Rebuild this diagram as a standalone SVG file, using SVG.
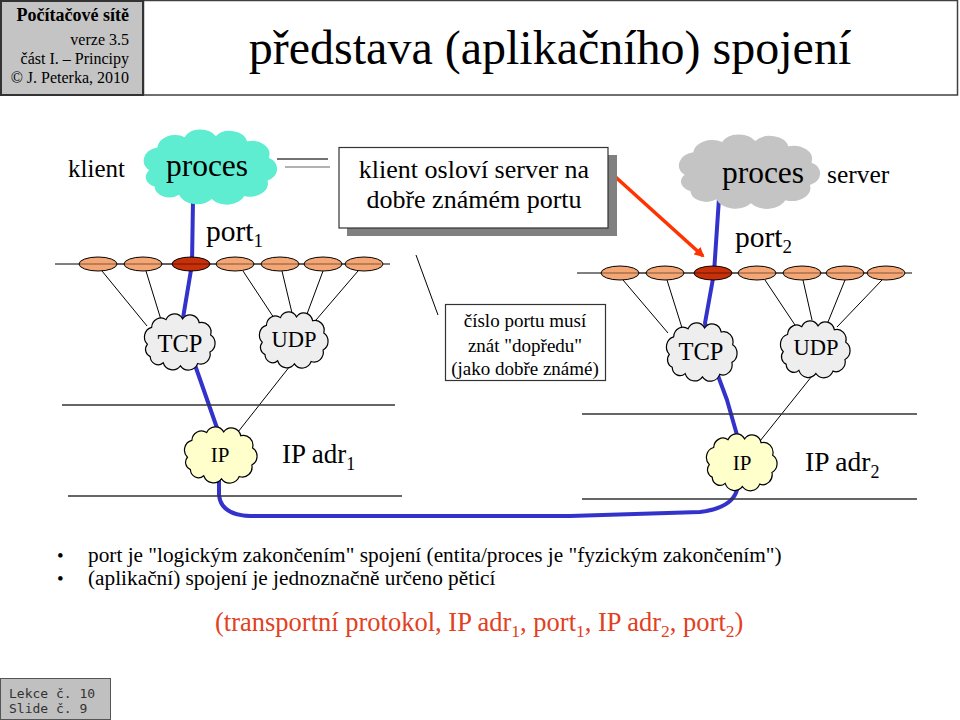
<svg xmlns="http://www.w3.org/2000/svg" width="960" height="720" viewBox="0 0 960 720">
<style>
text{font-family:"Liberation Serif","Times New Roman",serif;fill:#000}
.thin{stroke:#000;stroke-width:1;fill:none}
.hl{stroke:#333;stroke-width:1.3;fill:none}
.ell{fill:#F4A674;stroke:#000;stroke-width:1}
.ellr{fill:#C8300A;stroke:#000;stroke-width:1}
.cl{stroke:#000;stroke-width:1.2}
.mono{font-family:"DejaVu Sans Mono","Liberation Mono",monospace;font-size:13px;fill:#333}
.red{fill:#E2401E}
</style>
<defs>
<path id="cloud" vector-effect="non-scaling-stroke" d="M6,38 A13,13 0 0 1 12,16 A13,13 0 0 1 32,6 A13,13 0 0 1 55,5 A13,13 0 0 1 78,10 A13,13 0 0 1 94,26 A12.5,12.5 0 0 1 93,48 A13,13 0 0 1 76,63 A14,14 0 0 1 52,66 A14,14 0 0 1 28,62 A11,11 0 0 1 10,54 A10,10 0 0 1 6,38 Z"/>
<marker id="arr" markerWidth="10" markerHeight="10" refX="8" refY="5" orient="auto" markerUnits="userSpaceOnUse" viewBox="0 0 10 10">
<path d="M0,0 L10,5 L0,10 Z" fill="#FF3300"/>
</marker>
</defs>

<g id="header">
<rect x="143.5" y="0.5" width="814" height="94.5" fill="#fff" stroke="#404040" stroke-width="1.5"/>
<rect x="1" y="1" width="142" height="94" fill="#C4C4C4" stroke="#333" stroke-width="2"/>
<text x="129" y="21" text-anchor="end" font-size="18" font-weight="bold" fill="#1a1a1a">Počítačové sítě</text>
<text x="129" y="45" text-anchor="end" font-size="16" fill="#222">verze 3.5</text>
<text x="129" y="64" text-anchor="end" font-size="16" fill="#222">část I. – Principy</text>
<text x="129" y="83" text-anchor="end" font-size="16" fill="#222">© J. Peterka, 2010</text>
<text x="550" y="64" text-anchor="middle" font-size="48">představa (aplikačního) spojení</text>
</g>

<g id="connectors">
<path d="M193,200 L192,264 L183,318 L195,365 L217,428 L219,460 L219,495 Q221,515 250,516 L570,516 L700,512 Q732,508 737,490 L741,462 L737,435 L727,400 L717,373 L705,323 L714,273 L719,198" fill="none" stroke="#3333CC" stroke-width="4" stroke-linejoin="round"/>
<line x1="55" y1="264" x2="390" y2="264" class="thin"/>
<line x1="577" y1="273" x2="912" y2="273" class="thin"/>
<line x1="102" y1="271" x2="147" y2="326" class="thin"/>
<line x1="146" y1="271" x2="162" y2="323" class="thin"/>
<line x1="243" y1="271" x2="276" y2="321" class="thin"/>
<line x1="282" y1="271" x2="292" y2="313" class="thin"/>
<line x1="323" y1="271" x2="307" y2="314" class="thin"/>
<line x1="358" y1="271" x2="316" y2="320" class="thin"/>
<line x1="290" y1="366" x2="238" y2="432" class="thin"/>
<line x1="623" y1="280" x2="668" y2="333" class="thin"/>
<line x1="667" y1="280" x2="683" y2="331" class="thin"/>
<line x1="765" y1="280" x2="797" y2="328" class="thin"/>
<line x1="803" y1="280" x2="812" y2="320" class="thin"/>
<line x1="845" y1="280" x2="828" y2="322" class="thin"/>
<line x1="882" y1="280" x2="837" y2="327" class="thin"/>
<line x1="812" y1="376" x2="760" y2="441" class="thin"/>
<line x1="62" y1="405" x2="395" y2="405" class="hl"/>
<line x1="68" y1="496" x2="402" y2="496" class="hl"/>
<line x1="582" y1="414" x2="917" y2="414" class="hl"/>
<line x1="582" y1="499" x2="917" y2="499" class="hl"/>
<line x1="277" y1="159" x2="328" y2="159" stroke="#444" stroke-width="1.5"/>
<line x1="285" y1="167" x2="330" y2="167" stroke="#999" stroke-width="1.5"/>
<line x1="416" y1="255" x2="438" y2="315" class="thin"/>
<line x1="610" y1="172" x2="703" y2="256" stroke="#FF3300" stroke-width="3.5" marker-end="url(#arr)"/>
</g>

<g id="ellipses-left">
<ellipse cx="98" cy="264" rx="19" ry="7" class="ell"/>
<ellipse cx="143" cy="264" rx="19" ry="7" class="ell"/>
<ellipse cx="191" cy="264" rx="19" ry="7" class="ellr"/>
<ellipse cx="235" cy="264" rx="19" ry="7" class="ell"/>
<ellipse cx="280" cy="264" rx="19" ry="7" class="ell"/>
<ellipse cx="323" cy="264" rx="19" ry="7" class="ell"/>
<ellipse cx="364" cy="264" rx="19" ry="7" class="ell"/>
<line x1="79" y1="264" x2="381" y2="264" stroke="#000" stroke-width="0.8" opacity="0.6"/>
</g>
<g id="ellipses-right">
<ellipse cx="620" cy="273" rx="19" ry="7" class="ell"/>
<ellipse cx="665" cy="273" rx="19" ry="7" class="ell"/>
<ellipse cx="713" cy="273" rx="19" ry="7" class="ellr"/>
<ellipse cx="757" cy="273" rx="19" ry="7" class="ell"/>
<ellipse cx="802" cy="273" rx="19" ry="7" class="ell"/>
<ellipse cx="845" cy="273" rx="19" ry="7" class="ell"/>
<ellipse cx="886" cy="273" rx="19" ry="7" class="ell"/>
<line x1="601" y1="273" x2="903" y2="273" stroke="#000" stroke-width="0.8" opacity="0.6"/>
</g>

<g id="proces-klient">
<use href="#cloud" transform="translate(141,131) scale(1.36,1.03)" fill="#5EEDD1"/>
<text x="207" y="176" text-anchor="middle" font-size="31.5">proces</text>
</g>
<g id="proces-server">
<use href="#cloud" transform="translate(676,136) scale(1.44,1.02)" fill="#C4C4C4"/>
<text x="763" y="183" text-anchor="middle" font-size="31.5">proces</text>
</g>

<g id="tcp-left">
<use href="#cloud" transform="translate(143,315) scale(0.72,0.77)" fill="#EEEEEE" class="cl"/>
<text x="180" y="352" text-anchor="middle" font-size="24.5">TCP</text>
</g>
<g id="udp-left">
<use href="#cloud" transform="translate(258,313) scale(0.70,0.77)" fill="#EEEEEE" class="cl"/>
<text x="294" y="347" text-anchor="middle" font-size="22.5">UDP</text>
</g>
<g id="ip-left">
<use href="#cloud" transform="translate(183,428) scale(0.74,0.77)" fill="#FFFFCC" class="cl"/>
<text x="220" y="462" text-anchor="middle" font-size="21">IP</text>
</g>
<g id="tcp-right">
<use href="#cloud" transform="translate(665,324) scale(0.72,0.8)" fill="#EEEEEE" class="cl"/>
<text x="701" y="360" text-anchor="middle" font-size="24.5">TCP</text>
</g>
<g id="udp-right">
<use href="#cloud" transform="translate(779,322) scale(0.71,0.78)" fill="#EEEEEE" class="cl"/>
<text x="816" y="355" text-anchor="middle" font-size="22.5">UDP</text>
</g>
<g id="ip-right">
<use href="#cloud" transform="translate(705,435) scale(0.72,0.78)" fill="#FFFFCC" class="cl"/>
<text x="742" y="470" text-anchor="middle" font-size="21">IP</text>
</g>

<g id="callout-klient">
<rect x="347" y="155" width="270" height="81" fill="#808080"/>
<rect x="339" y="147.5" width="269" height="80.5" fill="#fff" stroke="#333" stroke-width="1.2"/>
<text x="474" y="178" text-anchor="middle" font-size="26">klient osloví server na</text>
<text x="474" y="208" text-anchor="middle" font-size="26">dobře známém portu</text>
</g>

<g id="callout-port">
<rect x="445.5" y="304.5" width="160" height="76" fill="#fff" stroke="#333" stroke-width="1.2"/>
<text x="525" y="327" text-anchor="middle" font-size="19">číslo portu musí</text>
<text x="525" y="352" text-anchor="middle" font-size="19">znát "dopředu"</text>
<text x="525" y="375" text-anchor="middle" font-size="19">(jako dobře známé)</text>
</g>

<g id="labels">
<text x="68" y="177" font-size="25">klient</text>
<text x="827" y="183" font-size="25.5">server</text>
<text x="206" y="241" font-size="29.5">port<tspan font-size="19" dy="6">1</tspan></text>
<text x="735" y="247" font-size="29.5">port<tspan font-size="19" dy="6">2</tspan></text>
<text x="282" y="463" font-size="27">IP adr<tspan font-size="18" dy="7">1</tspan></text>
<text x="805" y="471" font-size="27.5">IP adr<tspan font-size="18" dy="7">2</tspan></text>
</g>

<g id="bottom-text">
<text x="57" y="562" font-size="19">•</text>
<text x="88" y="562" font-size="21.3">port je "logickým zakončením" spojení (entita/proces je "fyzickým zakončením")</text>
<text x="57" y="585" font-size="19">•</text>
<text x="88" y="585" font-size="21.3">(aplikační) spojení je jednoznačně určeno pěticí</text>
<text x="215" y="631" font-size="26.5" class="red">(transportní protokol, IP adr<tspan font-size="17.5" dy="6" class="red">1</tspan><tspan dy="-6" class="red">, port</tspan><tspan font-size="17.5" dy="6" class="red">1</tspan><tspan dy="-6" class="red">, IP adr</tspan><tspan font-size="17.5" dy="6" class="red">2</tspan><tspan dy="-6" class="red">, port</tspan><tspan font-size="17.5" dy="6" class="red">2</tspan><tspan dy="-6" class="red">)</tspan></text>
</g>

<g id="footer">
<rect x="0.5" y="678.5" width="110" height="41" fill="#C0C0C0" stroke="#555" stroke-width="1"/>
<text x="9" y="698" class="mono">Lekce č. 10</text>
<text x="9" y="713" class="mono">Slide č. 9</text>
</g>
</svg>
